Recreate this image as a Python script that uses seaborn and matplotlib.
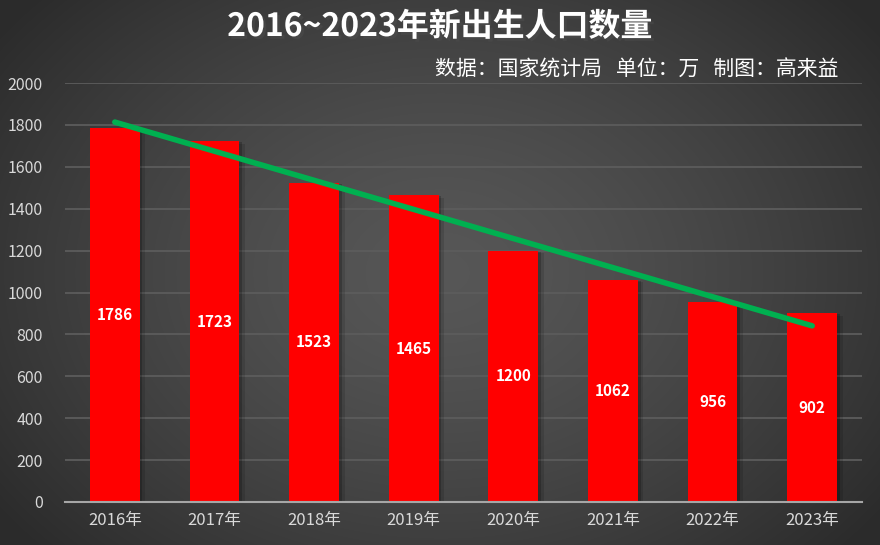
import numpy as np
import pandas as pd
import matplotlib
matplotlib.use("Agg")
import matplotlib.pyplot as plt
import matplotlib.patheffects as pe
import seaborn as sns

years = ["2016年", "2017年", "2018年", "2019年", "2020年", "2021年", "2022年", "2023年"]
births = [1786, 1723, 1523, 1465, 1200, 1062, 956, 902]
yticks = [0, 200, 400, 600, 800, 1000, 1200, 1400, 1600, 1800, 2000]
title = "2016~2023年新出生人口数量"
subtitle = "数据：国家统计局   单位：万   制图：高来益"

sns.set_theme(style="dark")
plt.rcParams['font.family'] = ['Noto Sans CJK SC', 'DejaVu Sans']
plt.rcParams['axes.unicode_minus'] = False

W, H = 880, 545
fig = plt.figure(figsize=(W / 100, H / 100), dpi=100)

# radial gradient background
bg = fig.add_axes([0, 0, 1, 1], zorder=-10)
yy, xx = np.mgrid[0:H, 0:W]
r = np.sqrt(((xx - W * 0.5) / (W * 0.62)) ** 2 + ((yy - H * 0.5) / (H * 0.75)) ** 2)
r = np.clip(r, 0, 1)
c0, c1 = 0.34, 0.17
img = c0 + (c1 - c0) * r ** 1.4
bg.imshow(np.dstack([img, img, img]), aspect="auto", extent=[0, 1, 0, 1])
bg.axis("off")

ax = fig.add_axes([65 / W, 1 - 502 / H, (862 - 65) / W, (502 - 83) / H])
ax.set_facecolor("none")

df = pd.DataFrame({"year": years, "births": births})
sns.barplot(data=df, x="year", y="births", color="#FF0000", width=0.5,
            saturation=1, linewidth=0, edgecolor="none", ax=ax, zorder=3)
for p in ax.patches:
    p.set_linewidth(0)
    p.set_path_effects([
        pe.SimplePatchShadow(offset=(4, -2), alpha=0.12, shadow_rgbFace="black"),
        pe.SimplePatchShadow(offset=(2, -1), alpha=0.2, shadow_rgbFace="black"),
        pe.Normal()])

# linear trend line
sns.regplot(x=np.arange(len(births)), y=np.array(births), scatter=False, ci=None,
            truncate=True, ax=ax,
            line_kws=dict(color="#00B050", lw=4, solid_capstyle="round", zorder=5))

for i, v in enumerate(births):
    ax.text(i, v / 2, str(v), ha="center", va="center", color="white",
            fontsize=11, fontweight="bold", zorder=6)

ax.set_ylim(0, 2000)
ax.set_xlim(-0.5, len(years) - 0.5)
ax.set_yticks(yticks)
ax.set_yticklabels([str(t) for t in yticks])
ax.grid(axis="y", color="#5c5c5c", lw=1.3, zorder=0)
ax.grid(axis="x", visible=False)
for s in ["left", "right", "top"]:
    ax.spines[s].set_visible(False)
ax.spines["bottom"].set_color("#a6a6a6")
ax.spines["bottom"].set_linewidth(1.5)
ax.spines["bottom"].set_zorder(4)
ax.tick_params(axis="y", colors="#d9d9d9", labelsize=11.5, length=0, pad=16)
ax.tick_params(axis="x", colors="#d9d9d9", labelsize=12, length=0, pad=7)
ax.set_xlabel("")
ax.set_ylabel("")

fig.text(440 / W, 1 - 27 / H, title, ha="center", va="center", color="white",
         fontsize=23, fontweight="bold",
         path_effects=[pe.withSimplePatchShadow(offset=(2, -2), alpha=0.5)])
fig.text(838 / W, 1 - 70 / H, subtitle, ha="right", va="center", color="white",
         fontsize=15)

fig.savefig("out.png", dpi=100)
